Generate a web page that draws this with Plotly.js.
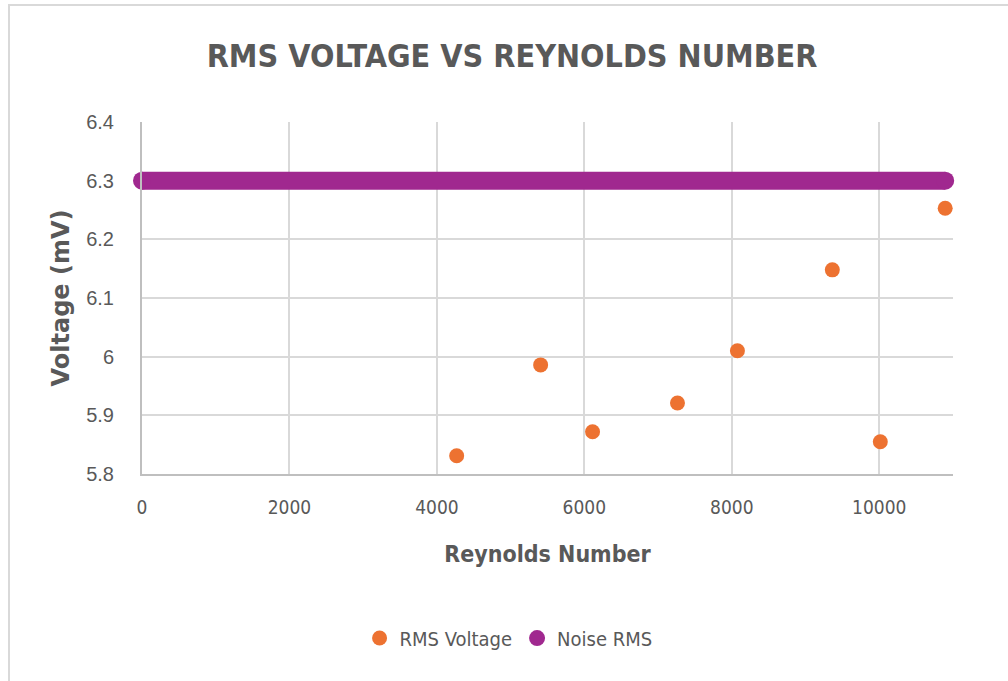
<!DOCTYPE html>
<html>
<head>
<meta charset="utf-8">
<script src="https://cdn.plot.ly/plotly-3.0.1.min.js"></script>
<style>
  html, body { margin: 0; padding: 0; background: #fff; }
  #frame {
    position: absolute; left: 8px; top: 4px; width: 1000px; height: 677px;
    border-left: 2px solid #d9d9d9; border-top: 2px solid #d9d9d9;
  }
  #plot { position: absolute; left: 0; top: 0; width: 1008px; height: 681px; }
</style>
</head>
<body>
<div id="frame"></div>
<div id="plot"></div>
<script>
// RMS 電壓量測值
const reynolds = [4268, 5407, 6111, 7263, 8076, 9363, 10014, 10894];
const rmsVoltage = [5.831, 5.986, 5.872, 5.921, 6.010, 6.148, 5.855, 6.253];

// 雜訊 RMS（常數）
const noiseX = [0, 10894];
const noiseY = [6.3, 6.3];

const xTicks = [0, 2000, 4000, 6000, 8000, 10000];
const yTicks = [5.8, 5.9, 6.0, 6.1, 6.2, 6.3, 6.4];
const yTickText = ['5.8', '5.9', '6', '6.1', '6.2', '6.3', '6.4'];

const orange = '#ed7231';
const purple = '#a0288f';
const gray = '#595959';
const condensed = '"DejaVu Sans Condensed", "DejaVu Sans", sans-serif';
const sans = '"Liberation Sans", Arial, sans-serif';

const traces = [
  {
    x: reynolds, y: rmsVoltage,
    mode: 'markers', type: 'scatter',
    name: 'RMS Voltage',
    marker: { color: orange, size: 15 },
    hoverinfo: 'x+y'
  },
  {
    x: noiseX, y: noiseY,
    mode: 'lines', type: 'scatter',
    line: { color: purple, width: 18 },
    showlegend: false, hoverinfo: 'skip'
  },
  {
    x: noiseX, y: noiseY,
    mode: 'markers', type: 'scatter',
    name: 'Noise RMS',
    cliponaxis: false,
    marker: { color: purple, size: 18 },
    hoverinfo: 'x+y'
  }
];

const layout = {
  width: 1008, height: 681,
  margin: { l: 142, r: 55, t: 122, b: 207 },
  paper_bgcolor: 'rgba(0,0,0,0)',
  plot_bgcolor: '#fff',
  title: {
    text: '<b>RMS VOLTAGE VS REYNOLDS NUMBER</b>',
    font: { family: condensed, size: 32, color: gray },
    x: 0.508, xref: 'container', xanchor: 'center',
    y: 0.918, yref: 'container', yanchor: 'middle'
  },
  xaxis: {
    range: [0, 11000],
    tickvals: xTicks,
    ticktext: xTicks.map(String),
    showgrid: true, gridcolor: '#d9d9d9', gridwidth: 2,
    zeroline: false,
    showline: true, linecolor: '#bfbfbf', linewidth: 2,
    ticks: 'outside', ticklen: 15, tickcolor: 'rgba(0,0,0,0)',
    tickfont: { family: condensed, size: 19, color: gray },
    title: {
      text: '<b>Reynolds Number</b>',
      font: { family: condensed, size: 23, color: gray },
      standoff: 29
    }
  },
  yaxis: {
    range: [5.8, 6.4],
    tickvals: yTicks,
    ticktext: yTickText,
    showgrid: true, gridcolor: '#d9d9d9', gridwidth: 2,
    zeroline: false,
    showline: true, linecolor: '#bfbfbf', linewidth: 2,
    ticks: 'outside', ticklen: 22, tickcolor: 'rgba(0,0,0,0)',
    tickfont: { family: sans, size: 20, color: gray },
    title: {
      text: '<b>Voltage (mV)</b>',
      font: { family: '"DejaVu Sans", sans-serif', size: 24, color: gray },
      standoff: 10
    }
  },
  showlegend: true,
  legend: {
    orientation: 'h',
    x: 0.452, xanchor: 'center',
    y: -0.466, yanchor: 'middle',
    font: { family: condensed, size: 20, color: gray },
    itemsizing: 'trace',
    itemwidth: 30,
    traceorder: 'normal'
  },
  hovermode: 'closest'
};

Plotly.newPlot('plot', traces, layout, { displayModeBar: false, responsive: false });
</script>
</body>
</html>
